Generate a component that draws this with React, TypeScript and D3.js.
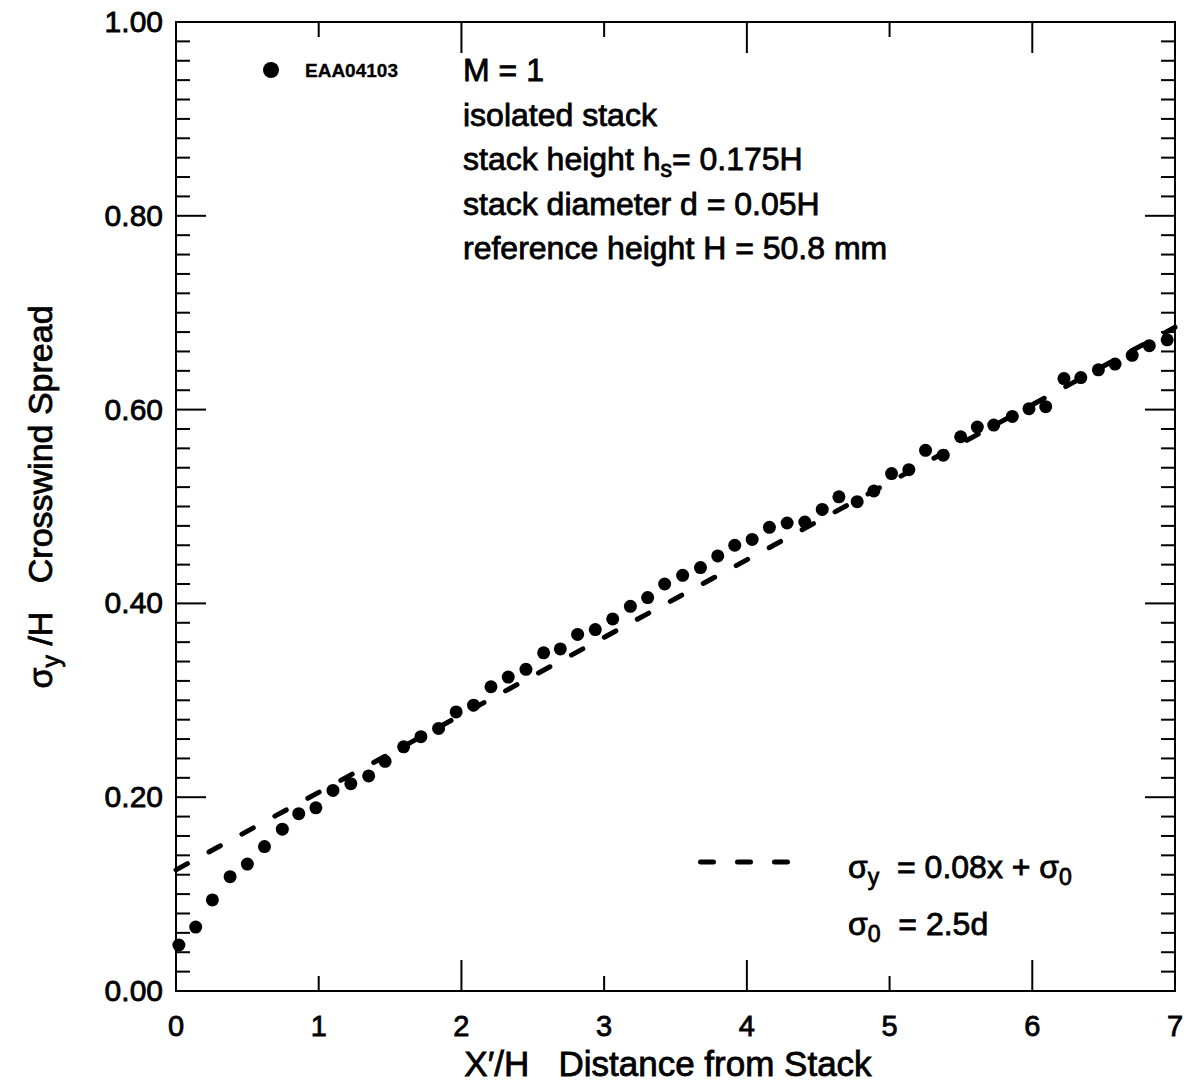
import React from "react";
import * as d3 from "d3";

const xValues = [0.02, 0.138, 0.255, 0.379, 0.5, 0.62, 0.745, 0.86, 0.98, 1.1, 1.225, 1.35, 1.465, 1.595, 1.716, 1.84, 1.963, 2.085, 2.207, 2.328, 2.452, 2.576, 2.693, 2.814, 2.938, 3.06, 3.184, 3.305, 3.424, 3.55, 3.675, 3.796, 3.915, 4.037, 4.158, 4.282, 4.406, 4.528, 4.645, 4.773, 4.89, 5.014, 5.135, 5.252, 5.376, 5.498, 5.615, 5.73, 5.86, 5.977, 6.094, 6.222, 6.34, 6.463, 6.58, 6.7, 6.82, 6.945];
const sigmaValues = [0.0475, 0.066, 0.094, 0.118, 0.131, 0.149, 0.167, 0.183, 0.189, 0.207, 0.214, 0.222, 0.237, 0.252, 0.2625, 0.271, 0.288, 0.295, 0.314, 0.324, 0.332, 0.349, 0.353, 0.368, 0.373, 0.384, 0.397, 0.406, 0.42, 0.429, 0.437, 0.449, 0.46, 0.466, 0.4785, 0.483, 0.484, 0.497, 0.51, 0.505, 0.516, 0.534, 0.538, 0.558, 0.553, 0.572, 0.582, 0.584, 0.593, 0.601, 0.603, 0.632, 0.633, 0.641, 0.647, 0.656, 0.666, 0.672];

const fitSlope = 0.08;
const fitIntercept = 0.125; // sigma0 = 2.5d = 2.5*0.05
const fitX = [0, 7];

const xTicks = [0, 1, 2, 3, 4, 5, 6, 7];
const yTicks = [0, 0.2, 0.4, 0.6, 0.8, 1.0];
const yMinorTicks = d3.range(0, 1.0001, 0.02);

const seriesName = "EAA04103";
const annotations = ["M = 1", "isolated stack", "stack height h_s= 0.175H", "stack diameter d = 0.05H", "reference height H = 50.8 mm"];

const W = 1191, H = 1082;
const L = 176, R = 1175, T = 22, B = 991;
const FONT = "'Liberation Sans', Arial, Helvetica, sans-serif";

export default function App() {
  const x = d3.scaleLinear().domain([0, 7]).range([L, R]);
  const y = d3.scaleLinear().domain([0, 1]).range([B, T]);
  const line = d3.line<number>().x((d) => x(d)).y((d) => y(fitIntercept + fitSlope * d));
  const txt = { fontFamily: FONT, fill: "#000", stroke: "#000", strokeWidth: 0.8 } as const;

  return (
    <svg width={W} height={H} style={{ position: "absolute", left: 0, top: 0, background: "#fff" }}>
      <rect x={0} y={0} width={W} height={H} fill="#fff" />
      {/* fit line */}
      <path d={line(fitX) || ""} fill="none" stroke="#000" strokeWidth={5} strokeLinecap="round" strokeDasharray="13 24.5" />
      {/* points */}
      {xValues.map((v, i) => (
        <circle key={i} cx={x(v)} cy={y(sigmaValues[i])} r={6.5} fill="#000" />
      ))}
      {/* frame */}
      <rect x={L} y={T} width={R - L} height={B - T} fill="none" stroke="#000" strokeWidth={2} />
      {/* y ticks */}
      {yMinorTicks.map((t, i) => {
        const major = Math.abs((t * 100) % 20) < 0.01 || Math.abs((t * 100) % 20 - 20) < 0.01;
        const len = major ? 30 : 14;
        return (
          <g key={"y" + i}>
            <line x1={L} x2={L + len} y1={y(t)} y2={y(t)} stroke="#000" strokeWidth={2} />
            <line x1={R} x2={R - len} y1={y(t)} y2={y(t)} stroke="#000" strokeWidth={2} />
          </g>
        );
      })}
      {/* x ticks */}
      {xTicks.map((t) => {
        const len = t % 2 === 0 ? 31 : 15;
        return (
          <g key={"x" + t}>
            <line x1={x(t)} x2={x(t)} y1={B} y2={B - len} stroke="#000" strokeWidth={2} />
            <line x1={x(t)} x2={x(t)} y1={T} y2={T + len} stroke="#000" strokeWidth={2} />
            <text x={x(t)} y={1036} textAnchor="middle" fontSize={29} {...txt}>{t}</text>
          </g>
        );
      })}
      {yTicks.map((t) => (
        <text key={"yl" + t} x={163} y={y(t) + 10} textAnchor="end" fontSize={30} {...txt}>{t.toFixed(2)}</text>
      ))}
      {/* axis titles */}
      <text x={668} y={1076} textAnchor="middle" fontSize={35} {...txt}>
        X′/H{"\u00a0\u00a0\u00a0"}Distance from Stack
      </text>
      <text transform="translate(52,497) rotate(-90)" textAnchor="middle" fontSize={34} {...txt}>
        σ<tspan fontSize={25} dy={8}>y</tspan><tspan dy={-8}>{"\u00a0"}/H{"\u00a0\u00a0\u00a0"}Crosswind Spread</tspan>
      </text>
      {/* legend */}
      <circle cx={271} cy={70} r={8} fill="#000" />
      <text x={305} y={77} fontSize={19} fontWeight="bold" {...txt} strokeWidth={0.3}>{seriesName}</text>
      {/* annotations */}
      {annotations.map((a, i) => {
        const yy = 81 + i * 44.5;
        if (a.includes("h_s")) {
          const [pre, post] = a.split("h_s");
          return (
            <text key={a} x={463} y={yy} fontSize={32} {...txt}>
              {pre}h<tspan fontSize={23} dy={7}>s</tspan><tspan dy={-7}>{post}</tspan>
            </text>
          );
        }
        return <text key={a} x={463} y={yy} fontSize={32} {...txt}>{a}</text>;
      })}
      {/* fit legend */}
      <line x1={698} x2={792} y1={862} y2={862} stroke="#000" strokeWidth={5} strokeLinecap="round" strokeDasharray="13 24" transform="translate(2.5,0)" />
      <text x={848} y={878} fontSize={32} {...txt}>
        σ<tspan fontSize={23} dy={7}>y</tspan><tspan dy={-7}>{"\u00a0\u00a0"}= 0.08x + σ</tspan><tspan fontSize={23} dy={7}>0</tspan>
      </text>
      <text x={848} y={935} fontSize={32} {...txt}>
        σ<tspan fontSize={23} dy={7}>0</tspan><tspan dy={-7}>{"\u00a0\u00a0"}= 2.5d</tspan>
      </text>
    </svg>
  );
}
